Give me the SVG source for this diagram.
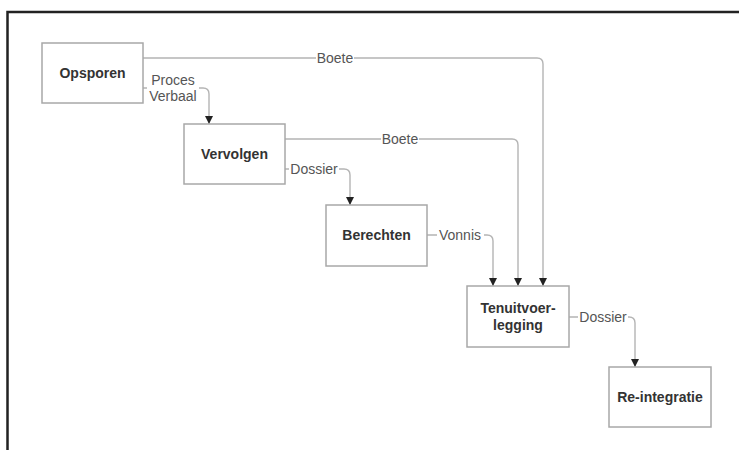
<svg xmlns="http://www.w3.org/2000/svg" width="739" height="450" viewBox="0 0 739 450">
  <defs>
    <marker id="arr" markerUnits="userSpaceOnUse" markerWidth="8" markerHeight="8" viewBox="0 0 8 8" refX="8" refY="4" orient="auto">
      <path d="M0,0 L8,4 L0,8 Z" fill="#222"/>
    </marker>
  </defs>
  <style>
    .node rect { fill: #fff; stroke: #a8a8a8; stroke-width: 1.5; }
    .node text { font-family: "Liberation Sans", Arial, sans-serif; font-size: 14px; font-weight: bold; fill: #333; text-anchor: middle; }
    .conn path { fill: none; stroke: #b4b4b4; stroke-width: 1.4; }
    .conn path.arrow { marker-end: url(#arr); }
    .lbl rect { fill: #fff; stroke: none; }
    .lbl text { font-family: "Liberation Sans", Arial, sans-serif; font-size: 14px; fill: #555; text-anchor: middle; }
  </style>
  <rect x="0" y="0" width="739" height="450" fill="#fff"/>
  <path d="M7.5,452 V12 H741" fill="none" stroke="#222" stroke-width="2.5"/>

  <g id="connectors" class="conn">
    <path class="arrow" d="M143,58 H537 Q543,58 543,64 V286"/>
    <path class="arrow" d="M285,139 H512 Q518,139 518,145 V286"/>
    <path class="arrow" d="M143,88 H203 Q209,88 209,94 V124"/>
    <path class="arrow" d="M285,169 H344 Q350,169 350,175 V205"/>
    <path class="arrow" d="M427,235 H487 Q493,235 493,241 V286"/>
    <path class="arrow" d="M569,317 H629 Q635,317 635,323 V367"/>
    <g class="lbl">
      <rect x="316" y="50" width="38" height="16"/>
      <text x="335" y="63">Boete</text>
      <rect x="381" y="131" width="38" height="16"/>
      <text x="400" y="144">Boete</text>
      <rect x="147" y="72" width="52" height="32"/>
      <text x="173" y="85">Proces</text>
      <text x="173" y="101">Verbaal</text>
      <rect x="289" y="161" width="50" height="16"/>
      <text x="314" y="174">Dossier</text>
      <rect x="437" y="227" width="47" height="16"/>
      <text x="460" y="240">Vonnis</text>
      <rect x="578" y="309" width="50" height="16"/>
      <text x="603" y="322">Dossier</text>
    </g>
  </g>

  <g id="opsporen" class="node">
    <rect x="42" y="43" width="101" height="60"/>
    <text x="92.5" y="78">Opsporen</text>
  </g>
  <g id="vervolgen" class="node">
    <rect x="184" y="124" width="101" height="60"/>
    <text x="234.5" y="159">Vervolgen</text>
  </g>
  <g id="berechten" class="node">
    <rect x="326" y="205" width="101" height="61"/>
    <text x="376.5" y="240">Berechten</text>
  </g>
  <g id="tenuitvoerlegging" class="node">
    <rect x="467" y="286" width="102" height="61"/>
    <text x="518" y="313">Tenuitvoer-</text>
    <text x="518" y="330">legging</text>
  </g>
  <g id="reintegratie" class="node">
    <rect x="609" y="367" width="102" height="60"/>
    <text x="660" y="402">Re-integratie</text>
  </g>
</svg>
